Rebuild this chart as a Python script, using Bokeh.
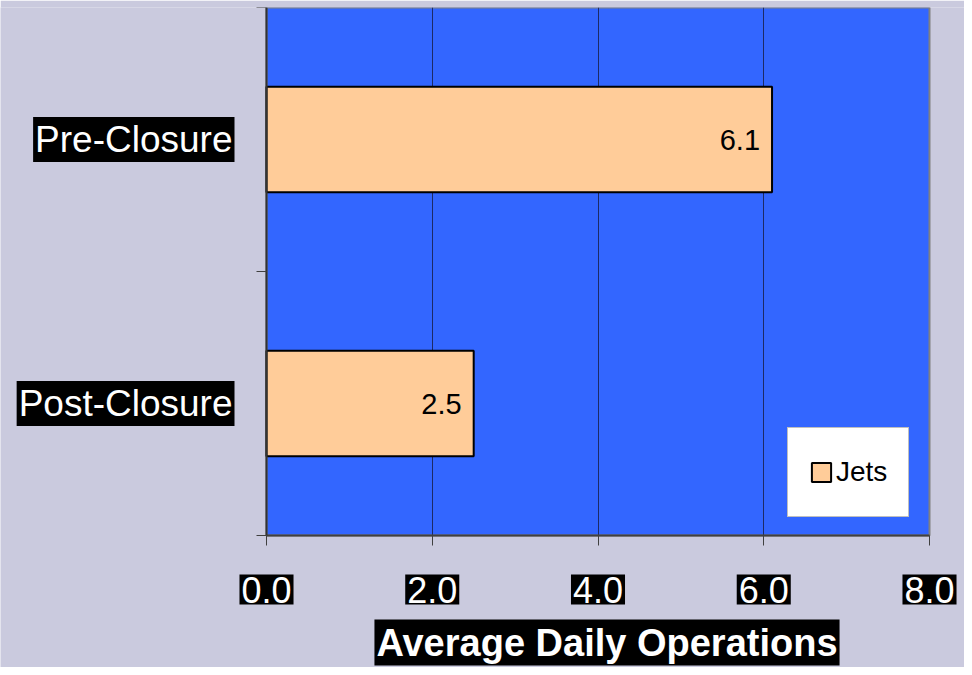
from bokeh.plotting import figure
from bokeh.models import (Range1d, FixedTicker, ColumnDataSource, LabelSet, Label,
                          Legend, LegendItem, BoxAnnotation)
from bokeh.core.properties import value
from bokeh.embed import file_html
from bokeh.resources import INLINE

# ---- data ----
categories = ["Post-Closure", "Pre-Closure"]
jets = [2.5, 6.1]
value_labels = ["2.5", "6.1"]
x_ticks = [0, 2, 4, 6, 8]
x_tick_labels = ["0.0", "2.0", "4.0", "6.0", "8.0"]
x_title = "Average Daily Operations"
series_name = "Jets"

FONT = "Liberation Sans"
n = len(categories)
ypos = [i + 0.5 for i in range(n)]   # category band centres
ybounds = list(range(n + 1))         # category band edges
XMIN, XMAX = x_ticks[0], x_ticks[-1]

# ---- layout (pixels) ----
W, H = 964, 667
TOP, RIGHT = 7, 0                      # frame inset
PLOT_L, PLOT_R = 266, 929              # plot-area left/right on the canvas
PLOT_T, PLOT_B = 7, 535                # plot-area top/bottom on the canvas
kx = (PLOT_R - PLOT_L) / (XMAX - XMIN)
ky = (PLOT_B - PLOT_T) / n
x_range = Range1d(XMIN - (PLOT_L - 0) / kx, XMAX + (W - RIGHT - PLOT_R) / kx)
y_range = Range1d(0 - (H - PLOT_B) / ky, n + (PLOT_T - TOP) / ky)

p = figure(width=W, height=H, x_range=x_range, y_range=y_range,
           x_axis_location="above", y_axis_location="right",
           output_backend="svg", toolbar_location=None,
           min_border_left=0, min_border_bottom=0, min_border_top=TOP, min_border_right=RIGHT)
p.background_fill_color = "#cacade"
p.border_fill_color = "#cacade"
p.outline_line_color = None

# plot area
p.add_layout(BoxAnnotation(left=XMIN, right=XMAX, bottom=0, top=n, level="image",
                           fill_color="#3366ff", fill_alpha=1.0,
                           line_color="#808080", line_width=2, line_alpha=1.0))

src = ColumnDataSource(dict(cat=categories, y=ypos, val=jets, lab=value_labels))
bars = p.hbar(y="y", right="val", left=0, height=0.4, source=src,
              fill_color="#ffcc99", line_color="black", line_width=2)

# x axis drawn along the bottom edge of the plot area (labels drawn separately, boxed)
xa = p.xaxis[0]
xa.fixed_location = 0
xa.bounds = (XMIN, XMAX)
xa.ticker = FixedTicker(ticks=x_ticks)
xa.major_label_overrides = {t: "" for t in x_ticks}
xa.major_label_text_font_size = "0px"
xa.major_label_standoff = 0
xa.major_tick_out = 0
xa.major_tick_in = 10
xa.minor_tick_out = 0
xa.minor_tick_in = 0
xa.axis_line_color = "#404040"
xa.axis_line_width = 2
xa.major_tick_line_color = "#404040"

# y axis drawn along the left edge, ticks at category edges
ya = p.yaxis[0]
ya.fixed_location = XMIN
ya.bounds = (0, n)
ya.ticker = FixedTicker(ticks=ybounds)
ya.major_label_overrides = {t: "" for t in ybounds}
ya.major_label_text_font_size = "0px"
ya.major_label_standoff = 0
ya.major_tick_out = 0
ya.major_tick_in = 10
ya.minor_tick_out = 0
ya.minor_tick_in = 0
ya.axis_line_color = "#333333"
ya.axis_line_width = 2
ya.major_tick_line_color = "#404040"

p.ygrid.visible = False
p.xgrid.ticker = FixedTicker(ticks=x_ticks[1:-1])
p.xgrid.grid_line_color = "#1c2a66"
p.xgrid.grid_line_width = 1
try:
    p.xgrid.cross_bounds = (0, n)
except Exception:
    p.xgrid.visible = False
    gx = x_ticks[1:-1]
    p.segment(x0=gx, x1=gx, y0=[0] * len(gx), y1=[n] * len(gx),
              line_color="#1c2a66", line_width=1, level="underlay")

# category labels (white on black)
for yy, c in zip(ypos, categories):
    p.add_layout(Label(x=XMIN, y=yy, x_offset=-32, text=c, text_align="right",
                       text_baseline="middle", text_color="white", text_font=FONT,
                       text_font_size="37px", background_fill_color="black", padding=2))

# x tick labels (white on black)
for v, t in zip(x_ticks, x_tick_labels):
    p.add_layout(Label(x=v, y=0, y_offset=-54, text=t, text_align="center",
                       text_baseline="middle", text_color="white", text_font=FONT,
                       text_font_size="36px", background_fill_color="black", padding=2))

# axis title
p.add_layout(Label(x=(XMIN + XMAX) / 2, x_offset=9, y=0, y_offset=-107, text=x_title,
                   text_align="center", text_baseline="middle", text_color="white",
                   text_font=FONT, text_font_style="bold", text_font_size="38px",
                   background_fill_color="black", padding=2))

# value labels
p.add_layout(LabelSet(x="val", y="y", text="lab", source=src, x_offset=-12,
                      text_align="right", text_baseline="middle", text_color="black",
                      text_font=value(FONT), text_font_size="29px"))

legend = Legend(items=[LegendItem(label=series_name, renderers=[bars])],
                location=(787, H - 517), padding=21,
                glyph_width=24, glyph_height=24, label_standoff=3, label_height=46,
                label_text_font=FONT, label_text_font_size="28px", label_text_color="black",
                border_line_color="#808080", border_line_width=1,
                background_fill_color="white", background_fill_alpha=1.0)
p.add_layout(legend)

open("out.html", "w").write(file_html(p, INLINE))
